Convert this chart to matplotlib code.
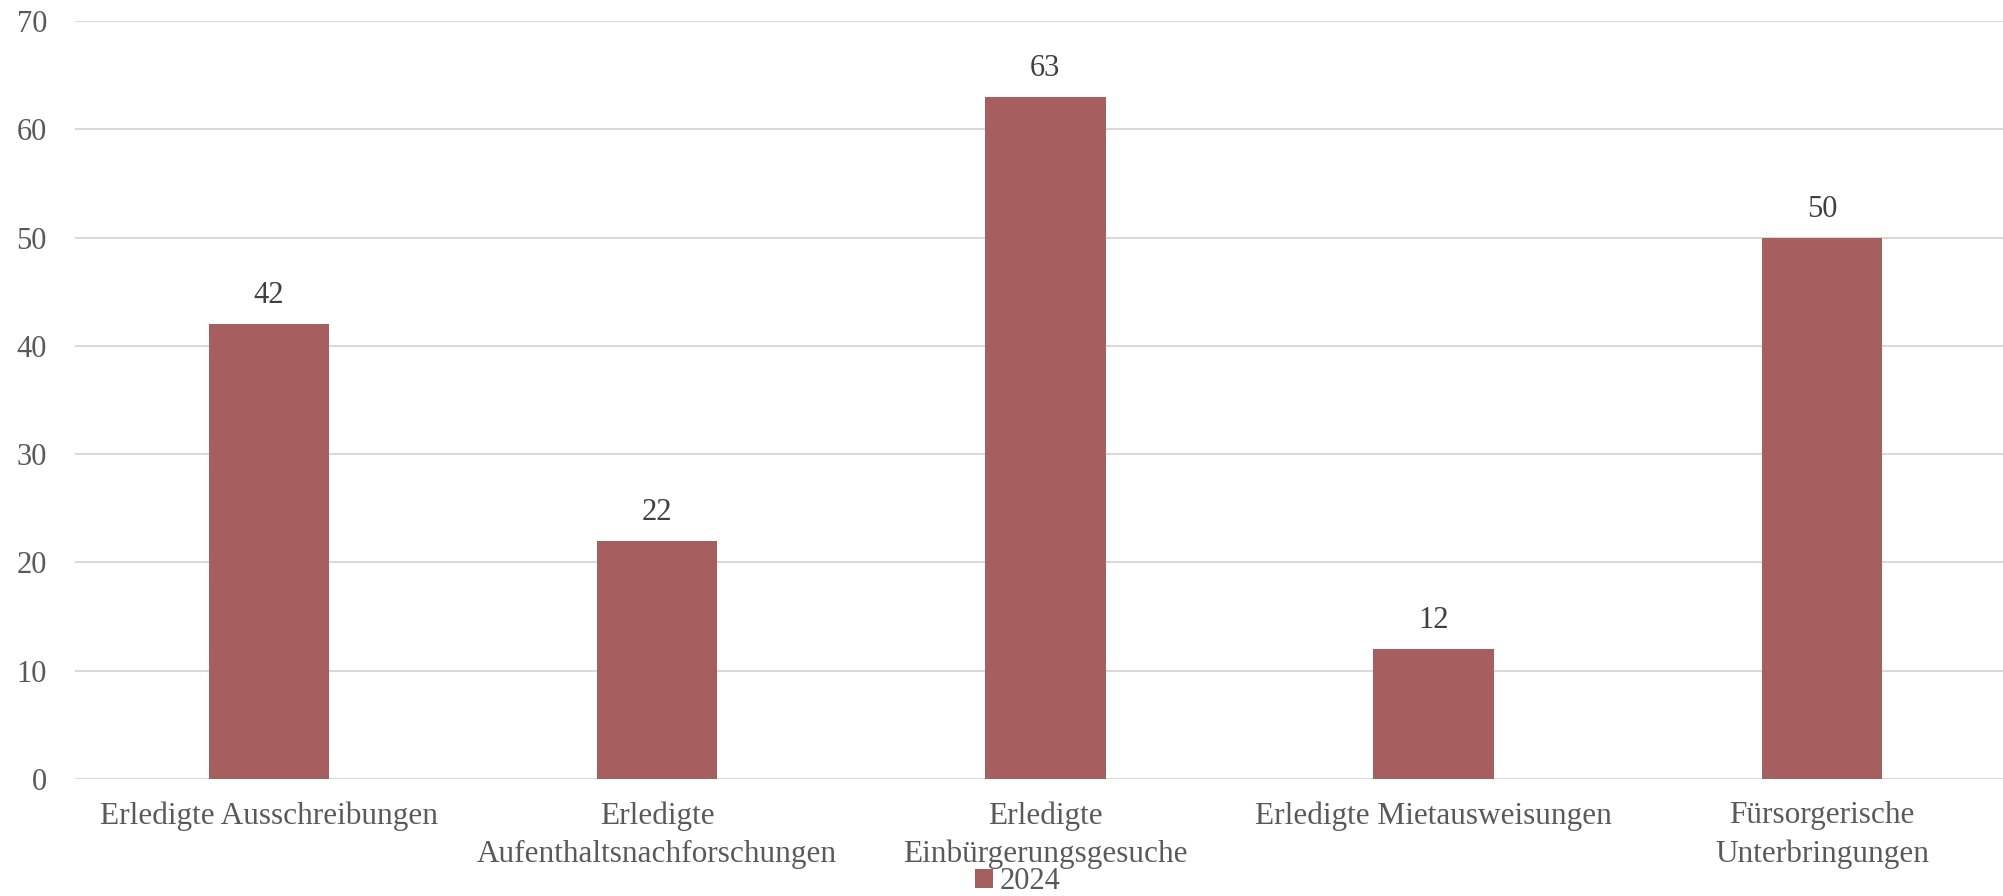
import matplotlib
matplotlib.use("Agg")
import matplotlib.pyplot as plt
import numpy as np

categories = [
    "Erledigte Ausschreibungen",
    "Erledigte\nAufenthaltsnachforschungen",
    "Erledigte\nEinbürgerungsgesuche",
    "Erledigte Mietausweisungen",
    "Fürsorgerische\nUnterbringungen",
]
values_2024 = [42, 22, 63, 12, 50]
series_name = "2024"
y_ticks = [0, 10, 20, 30, 40, 50, 60, 70]

plt.rcParams['font.family'] = ['Liberation Serif', 'DejaVu Serif']

bar_color = "#A65E5E"
text_color = "#595959"
grid_color = "#D9D9D9"

fig = plt.figure(figsize=(20.03, 8.96), dpi=100)
ax = fig.add_axes([0.0373, 0.1306, 0.9692, 0.846])

x = np.arange(len(categories))
bars = ax.bar(x, values_2024, width=0.31, color=bar_color, label=series_name, zorder=3)

for rect, v in zip(bars, values_2024):
    ax.annotate(str(v), xy=(rect.get_x() + rect.get_width() / 2, v),
                xytext=(0, 10), textcoords='offset points',
                ha='center', va='bottom', fontsize=22, color="#404040")

ax.set_xlim(-0.5, len(categories) - 0.5)
ax.set_ylim(0, 70)
ax.set_yticks(y_ticks)
ax.set_xticks(x)
ax.set_xticklabels(categories, fontsize=22.5, color=text_color, linespacing=1.4,
                   va='top')
ax.tick_params(axis='y', labelsize=22, labelcolor=text_color, length=0, pad=20)
ax.tick_params(axis='x', length=0, pad=16)

ax.grid(axis='y', color=grid_color, linewidth=1.5, zorder=0)
for s in ax.spines.values():
    s.set_visible(False)

fig.legend(loc='lower center', bbox_to_anchor=(0.508, -0.031), frameon=False,
           fontsize=22, labelcolor=text_color, handlelength=0.6, handleheight=0.6,
           handletextpad=0.2)

fig.savefig("out.png", dpi=100)
